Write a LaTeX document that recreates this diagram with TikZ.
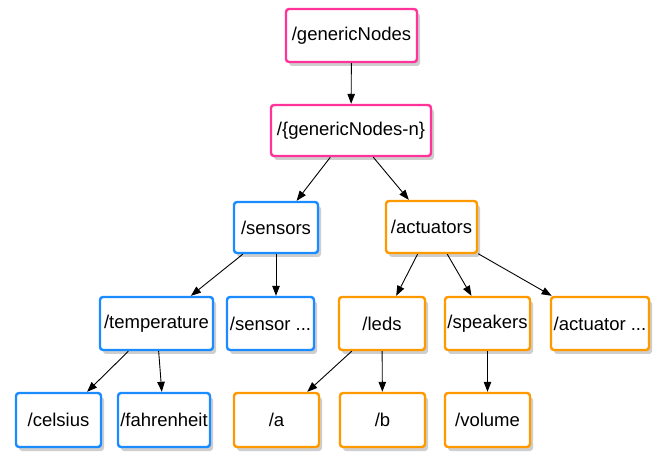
\documentclass[tikz,border=0pt]{standalone}
\usepackage{fontspec}
\setmainfont{Liberation Sans}
\usetikzlibrary{arrows.meta,shadows}
\definecolor{cpink}{HTML}{FF3399}
\definecolor{cblue}{HTML}{1A8CFF}
\definecolor{corange}{HTML}{FF9900}
\tikzset{
  box/.style={draw, line width=2.4pt, rounded corners=3pt, fill=white,
    inner sep=0pt, font=\fontsize{18.5}{20}\selectfont,
    drop shadow={shadow xshift=3pt, shadow yshift=-4pt, opacity=0.35, fill=black!55}},
  pinkbox/.style={box, draw=cpink},
  bluebox/.style={box, draw=cblue},
  orangebox/.style={box, draw=corange},
  conn/.style={-{Triangle[length=10pt,width=7.5pt]}, line width=0.9pt, black},
}
\begin{document}
\begin{tikzpicture}[x=1pt,y=-1pt]
\useasboundingbox[fill=white] (0,0) rectangle (659,454);
\node[pinkbox, minimum width=131pt, minimum height=53pt] (gn) at (351.5,35.5) {/genericNodes};
\node[pinkbox, minimum width=160pt, minimum height=51pt] (gnn) at (351,130.5) {/\{genericNodes-n\}};
\node[bluebox, minimum width=84pt, minimum height=51pt] (sens) at (276,227.5) {/sensors};
\node[orangebox, minimum width=91pt, minimum height=52pt] (act) at (431.5,227) {/actuators};
\node[bluebox, minimum width=113pt, minimum height=53pt] (temp) at (156.5,323.5) {/temperature};
\node[bluebox, minimum width=87pt, minimum height=53pt] (sdots) at (270.5,323.5) {/sensor ...};
\node[orangebox, minimum width=86pt, minimum height=53pt] (leds) at (382,323.5) {/leds};
\node[orangebox, minimum width=85pt, minimum height=53pt] (spk) at (487.5,323.5) {/speakers};
\node[orangebox, minimum width=98pt, minimum height=53pt] (adots) at (600,323.5) {/actuator ...};
\node[bluebox, minimum width=85pt, minimum height=54pt] (cel) at (58.5,420) {/celsius};
\node[bluebox, minimum width=92pt, minimum height=54pt] (fah) at (164,420) {/fahrenheit};
\node[orangebox, minimum width=85pt, minimum height=54pt] (a) at (276.5,420) {/a};
\node[orangebox, minimum width=85pt, minimum height=54pt] (b) at (382.5,420) {/b};
\node[orangebox, minimum width=85pt, minimum height=54pt] (vol) at (487.5,420) {/volume};
\draw[conn] (gn) -- (gnn);
\draw[conn] (gnn) -- (sens);
\draw[conn] (gnn) -- (act);
\draw[conn] (sens) -- (temp);
\draw[conn] (sens.south -| 276,0) -- (sdots.north -| 276,0);
\draw[conn] (act) -- (leds);
\draw[conn] (act) -- (spk);
\draw[conn] (act) -- (adots);
\draw[conn] (temp) -- (cel);
\draw[conn] (temp) -- (fah);
\draw[conn] (leds) -- (a);
\draw[conn] (leds) -- (b);
\draw[conn] (spk) -- (vol);
\end{tikzpicture}
\end{document}
